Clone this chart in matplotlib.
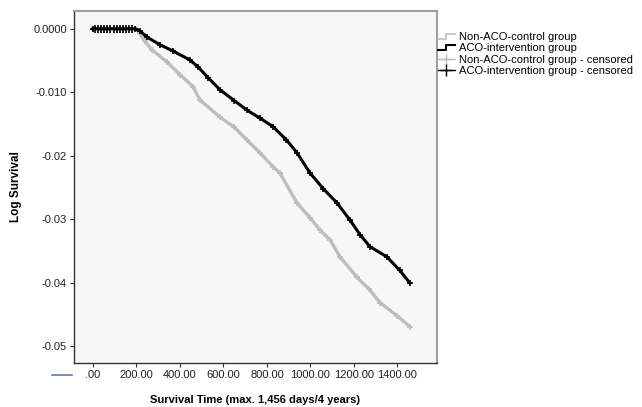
import matplotlib.pyplot as plt
from matplotlib.lines import Line2D
from matplotlib.legend_handler import HandlerBase
from matplotlib.ticker import FixedLocator, FixedFormatter

plt.rcParams['font.family'] = ['Liberation Sans', 'DejaVu Sans']

# ACO-intervention group (black)
aco_t = [0, 193, 215, 248, 308, 368, 446, 483, 530, 584, 650, 708, 770, 828,
         890, 938, 998, 1060, 1122, 1182, 1228, 1274, 1352, 1410, 1457]
aco_v = [0, 0, -0.0003, -0.0013, -0.0025, -0.0035, -0.0049, -0.0060, -0.0077,
         -0.0096, -0.0113, -0.0128, -0.0141, -0.0154, -0.0175, -0.0195, -0.0227,
         -0.0252, -0.0274, -0.0301, -0.0324, -0.0343, -0.0359, -0.0380, -0.0400]

# Non-ACO-control group (gray)
ctl_t = [0, 200, 239, 271, 340, 400, 460, 492, 584, 650, 708, 770, 828, 860,
         938, 1000, 1044, 1090, 1136, 1214, 1270, 1320, 1400, 1457]
ctl_v = [0, 0, -0.0020, -0.0033, -0.0052, -0.0072, -0.0091, -0.0112, -0.0139,
         -0.0155, -0.0175, -0.0196, -0.0217, -0.0227, -0.0274, -0.0298, -0.0317,
         -0.0332, -0.0359, -0.0391, -0.0410, -0.0431, -0.0452, -0.0469]

# censored marks in the flat early part
cens_t = [8, 22, 38, 52, 66, 80, 95, 110, 124, 138, 152, 166, 180]
cens_v = [0] * len(cens_t)

xticks = [0, 200, 400, 600, 800, 1000, 1200, 1400]
xtick_labels = ['.00', '200.00', '400.00', '600.00', '800.00', '1000.00', '1200.00', '1400.00']
yticks = [0, -0.01, -0.02, -0.03, -0.04, -0.05]
ytick_labels = ['0.0000', '-0.010', '-0.02', '-0.03', '-0.04', '-0.05']

GRAY = '#bdbdbd'
BLACK = '#000000'


class StepHandler(HandlerBase):
    def create_artists(self, legend, orig, xdescent, ydescent, width, height, fontsize, trans):
        x0 = -xdescent
        xs = [x0, x0 + width * 0.5, x0 + width * 0.5, x0 + width]
        ys = [-ydescent + height * 0.15, -ydescent + height * 0.15,
              -ydescent + height * 0.75, -ydescent + height * 0.75]
        ln = Line2D(xs, ys, color=orig.get_color(), lw=orig.get_linewidth())
        ln.set_transform(trans)
        return [ln]


fig = plt.figure(figsize=(6.42, 4.07), dpi=100)
ax = fig.add_axes([74 / 642, 1 - 363 / 407, (437 - 74) / 642, (363 - 11) / 407])
ax.set_facecolor('#f7f7f7')

ax.plot(ctl_t, ctl_v, color=GRAY, lw=2.4, marker='+', ms=5, mew=1.2, zorder=2)
ax.plot(aco_t, aco_v, color=BLACK, lw=2.2, marker='+', ms=5, mew=1.2, zorder=3)
ax.plot(cens_t, cens_v, color=BLACK, lw=0, marker='+', ms=6, mew=1.2, zorder=3)

ax.set_xlim(-87, 1582)
ax.set_ylim(-0.0526, 0.0028)
ax.xaxis.set_major_locator(FixedLocator(xticks))
ax.xaxis.set_major_formatter(FixedFormatter(xtick_labels))
ax.yaxis.set_major_locator(FixedLocator(yticks))
ax.yaxis.set_major_formatter(FixedFormatter(ytick_labels))
ax.tick_params(axis='both', direction='out', length=3, width=0.8, color='#333333',
               labelsize=8, labelcolor='#222222', pad=2)

for s in ['left', 'bottom']:
    ax.spines[s].set_color('#333333')
    ax.spines[s].set_linewidth(1.0)
for s in ['top', 'right']:
    ax.spines[s].set_color('#a0a0a0')
    ax.spines[s].set_linewidth(1.5)

ax.set_xlabel('Survival Time (max. 1,456 days/4 years)', fontsize=8, fontweight='bold', labelpad=10.5)
ax.set_ylabel('Log Survival', fontsize=8.5, fontweight='bold', labelpad=8)

h1 = Line2D([], [], color=GRAY, lw=1.2)
h2 = Line2D([], [], color=BLACK, lw=1.5)
h3 = Line2D([0], [0], color=GRAY, lw=1, marker='+', ms=8, mew=1)
h4 = Line2D([0], [0], color=BLACK, lw=1, marker='+', ms=8, mew=1)
fig.legend([h1, h2, h3, h4],
           ['Non-ACO-control group', 'ACO-intervention group',
            'Non-ACO-control group - censored', 'ACO-intervention group - censored'],
           handler_map={h1: StepHandler(), h2: StepHandler()},
           loc='upper left', bbox_to_anchor=(438 / 642, 1 - 32 / 407),
           frameon=False, fontsize=8, handlelength=1.5, handletextpad=0.35,
           labelspacing=0.12, borderaxespad=0, borderpad=0)

# short blue stroke at the lower left edge
fig.add_artist(Line2D([52 / 642, 72 / 642], [1 - 375 / 407, 1 - 375 / 407],
                      color='#5b7db5', lw=1.2))

fig.savefig('out.png', dpi=100)
